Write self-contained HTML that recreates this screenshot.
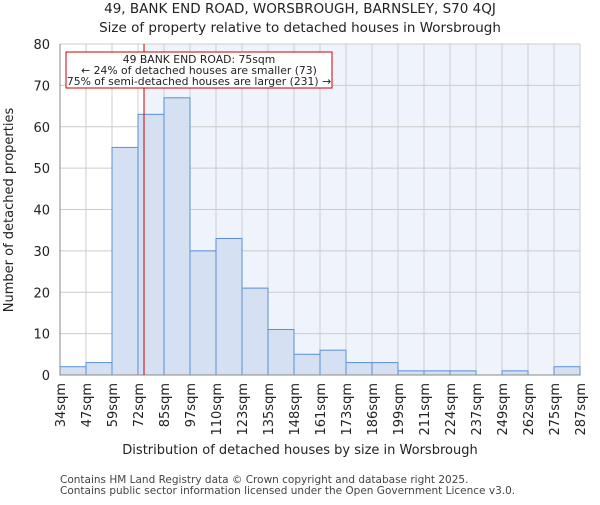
<!DOCTYPE html>
<html><head><meta charset="utf-8"><style>body{margin:0;background:#fff}text{font-family:"DejaVu Sans","Liberation Sans",sans-serif}</style></head>
<body>
<svg id="c" width="600" height="500" xmlns="http://www.w3.org/2000/svg"></svg>
<script>
const binLabels=["34sqm","47sqm","59sqm","72sqm","85sqm","97sqm","110sqm","123sqm","135sqm","148sqm","161sqm","173sqm","186sqm","199sqm","211sqm","224sqm","237sqm","249sqm","262sqm","275sqm","287sqm"];
const counts=[2,3,55,63,67,30,33,21,11,5,6,3,3,1,1,1,0,1,0,2];
const yTicks=[0,10,20,30,40,50,60,70,80];
const markerIndex=3+3/13;
const svg=document.getElementById('c');const NS="http://www.w3.org/2000/svg";
const L=60,R=580,T=44,B=375;
const bw=(R-L)/counts.length;
const x=i=>L+i*bw, y=v=>B-(v/80)*(B-T);
function el(t,a,txt){const e=document.createElementNS(NS,t);for(const k in a)e.setAttribute(k,a[k]);if(txt!==undefined)e.textContent=txt;svg.appendChild(e);return e;}
const mx=x(markerIndex);
let e=el('rect',{x:mx,y:T,width:R-mx,height:B-T,fill:'#eff3fb'});

yTicks.forEach(v=>{let g=el('line',{x1:L,x2:R,y1:y(v),y2:y(v),stroke:'#cccccc'});
let t=el('text',{x:L-10,y:y(v)+5,'text-anchor':'end','font-size':13,fill:'#222'},v);});
binLabels.forEach((s,i)=>{let g=el('line',{x1:x(i),x2:x(i),y1:T,y2:B,stroke:'#cccccc'});
let t=el('text',{transform:`translate(${x(i)+5},${B+8}) rotate(-90)`,'text-anchor':'end','font-size':13,fill:'#222'},s);});
counts.forEach((v,i)=>{if(v<=0)return;let b=el('rect',{x:x(i),y:y(v),width:bw,height:B-y(v),fill:'#d6e0f3',stroke:'#5a8fd6','stroke-width':1});});
e=el('line',{x1:L,x2:L,y1:T,y2:B,stroke:'#888'});
e=el('line',{x1:L,x2:R,y1:B,y2:B,stroke:'#888'});
e=el('line',{x1:mx,x2:mx,y1:T,y2:B,stroke:'#cc0000','stroke-width':1});
e=el('rect',{x:66,y:52,width:266,height:36,fill:'#fff',stroke:'#cc0000'});
[["49 BANK END ROAD: 75sqm",63],["← 24% of detached houses are smaller (73)",74],["75% of semi-detached houses are larger (231) →",85]].forEach(a=>{let t=el('text',{x:199,y:a[1],'text-anchor':'middle','font-size':10.8,fill:'#222'},a[0]);});
e=el('text',{x:300,y:13,'text-anchor':'middle','font-size':13.5,fill:'#222'},"49, BANK END ROAD, WORSBROUGH, BARNSLEY, S70 4QJ");
e=el('text',{x:300,y:32,'text-anchor':'middle','font-size':13.5,fill:'#222'},"Size of property relative to detached houses in Worsbrough");
e=el('text',{x:300,y:454,'text-anchor':'middle','font-size':13,fill:'#222'},"Distribution of detached houses by size in Worsbrough");
e=el('text',{transform:'translate(13,210) rotate(-90)','text-anchor':'middle','font-size':13,fill:'#222'},"Number of detached properties");
e=el('text',{x:60,y:483,'font-size':10.5,fill:'#444'},"Contains HM Land Registry data © Crown copyright and database right 2025.");
e=el('text',{x:60,y:494,'font-size':10.5,fill:'#444'},"Contains public sector information licensed under the Open Government Licence v3.0.");
</script>
</body></html>
